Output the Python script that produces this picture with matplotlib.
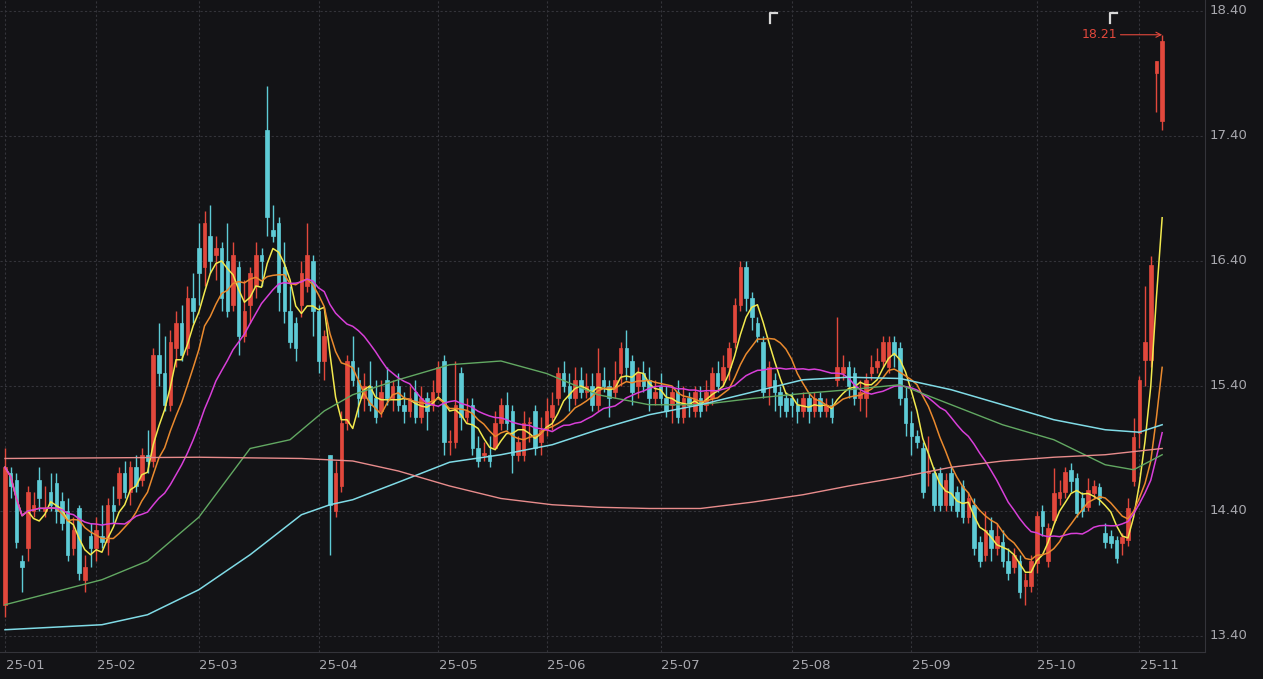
import numpy as np
import pandas as pd
import matplotlib
matplotlib.use("Agg")
import matplotlib.pyplot as plt

months = ["25-01","25-02","25-03","25-04","25-05","25-06","25-07","25-08","25-09","25-10","25-11"]
month_days = [16,18,21,21,19,20,23,21,22,18,5]

ohlc = [
# Jan
(13.65,14.90,13.55,14.75),(14.70,14.75,14.50,14.60),(14.65,14.70,14.10,14.15),(14.00,14.05,13.75,13.95),
(14.10,14.60,14.00,14.55),(14.40,14.55,14.35,14.45),(14.65,14.75,14.40,14.50),(14.40,14.60,14.35,14.42),
(14.55,14.70,14.40,14.45),(14.62,14.70,14.30,14.40),(14.48,14.55,14.25,14.30),(14.40,14.50,14.00,14.05),
(14.10,14.35,14.05,14.25),(14.42,14.45,13.85,13.90),(13.85,14.05,13.75,13.95),(14.20,14.30,13.95,14.10),
# Feb
(14.10,14.35,14.00,14.25),(14.20,14.45,14.10,14.15),(14.15,14.50,14.05,14.45),(14.45,14.60,14.30,14.40),
(14.50,14.75,14.45,14.70),(14.70,14.80,14.50,14.55),(14.55,14.80,14.45,14.75),(14.75,14.85,14.55,14.60),
(14.65,14.90,14.60,14.85),(14.85,15.05,14.70,14.80),(14.80,15.70,14.75,15.65),(15.65,15.90,15.40,15.50),
(15.50,15.80,15.20,15.25),(15.25,15.85,15.20,15.75),(15.70,16.00,15.55,15.90),(15.90,16.05,15.60,15.65),
(15.70,16.20,15.65,16.10),(16.10,16.30,15.90,16.00),
# Mar
(16.50,16.70,16.05,16.30),(16.35,16.80,16.20,16.70),(16.60,16.85,16.30,16.40),(16.45,16.60,16.25,16.50),
(16.50,16.55,16.00,16.10),(16.40,16.70,15.95,16.00),(16.05,16.55,16.00,16.45),(16.35,16.40,15.65,15.80),
(15.80,16.25,15.75,16.00),(16.05,16.35,15.90,16.30),(16.20,16.55,16.10,16.45),(16.45,16.50,16.20,16.40),
(17.45,17.80,16.60,16.75),(16.65,16.85,16.55,16.60),(16.70,16.75,16.00,16.15),(16.35,16.55,15.90,16.00),
(16.00,16.20,15.70,15.75),(15.90,15.95,15.60,15.70),(16.05,16.40,15.95,16.30),(16.20,16.70,16.15,16.45),
(16.40,16.45,15.80,16.00),
# Apr
(16.00,16.05,15.50,15.60),(15.60,15.85,15.45,15.80),(14.85,14.85,14.05,14.45),(14.40,14.80,14.35,14.70),
(14.60,15.20,14.55,15.10),(15.10,15.65,15.05,15.60),(15.60,15.80,15.40,15.45),(15.45,15.55,15.15,15.30),
(15.30,15.50,15.20,15.40),(15.40,15.60,15.20,15.25),(15.30,15.45,15.10,15.15),(15.20,15.45,15.15,15.35),
(15.45,15.55,15.25,15.30),(15.30,15.45,15.20,15.40),(15.40,15.50,15.20,15.25),(15.25,15.35,15.10,15.20),
(15.20,15.40,15.15,15.30),(15.35,15.45,15.10,15.15),(15.15,15.40,15.10,15.30),(15.30,15.35,15.05,15.20),
(15.25,15.45,15.20,15.35),
# May
(15.35,15.60,15.30,15.55),(15.60,15.65,14.85,14.95),(14.95,15.05,14.85,14.95),(14.95,15.60,14.90,15.25),
(15.50,15.55,15.05,15.15),(15.15,15.30,15.10,15.20),(15.25,15.30,14.85,14.90),(14.90,15.00,14.75,14.80),
(14.85,14.95,14.80,14.85),(14.85,15.00,14.75,14.80),(14.90,15.20,14.90,15.10),(15.10,15.30,15.05,15.25),
(15.25,15.35,15.05,15.10),(15.20,15.25,14.70,14.85),(14.85,15.00,14.80,14.95),(14.85,15.20,14.80,15.10),
(15.10,15.15,14.95,15.10),(15.20,15.25,14.85,14.90),(14.95,15.15,14.85,15.05),
# Jun
(15.05,15.30,15.00,15.20),(15.15,15.35,15.05,15.25),(15.30,15.55,15.25,15.50),(15.50,15.60,15.35,15.40),
(15.40,15.50,15.20,15.30),(15.30,15.55,15.25,15.45),(15.45,15.55,15.30,15.35),(15.35,15.50,15.30,15.40),
(15.40,15.50,15.20,15.25),(15.25,15.70,15.20,15.50),(15.45,15.55,15.35,15.40),(15.40,15.45,15.15,15.30),
(15.35,15.60,15.30,15.45),(15.50,15.75,15.40,15.70),(15.70,15.85,15.45,15.55),(15.60,15.65,15.25,15.35),
(15.40,15.55,15.30,15.50),(15.50,15.60,15.35,15.40),(15.45,15.55,15.20,15.30),(15.30,15.45,15.25,15.35),
# Jul
(15.40,15.50,15.25,15.30),(15.30,15.40,15.15,15.20),(15.25,15.40,15.10,15.35),(15.35,15.45,15.10,15.15),
(15.15,15.40,15.10,15.30),(15.30,15.35,15.15,15.25),(15.20,15.40,15.15,15.35),(15.30,15.40,15.15,15.20),
(15.25,15.45,15.20,15.35),(15.30,15.55,15.25,15.50),(15.50,15.60,15.35,15.40),(15.45,15.65,15.40,15.55),
(15.55,15.75,15.45,15.70),(15.75,16.10,15.70,16.05),(16.05,16.40,16.00,16.35),(16.35,16.40,16.00,16.10),
(16.10,16.15,15.85,15.95),(15.90,15.95,15.75,15.80),(15.75,15.80,15.30,15.35),(15.40,15.60,15.25,15.55),
(15.45,15.50,15.20,15.35),(15.35,15.40,15.15,15.25),(15.30,15.35,15.15,15.20),
# Aug
(15.30,15.35,15.15,15.25),(15.25,15.30,15.10,15.20),(15.20,15.35,15.15,15.30),(15.30,15.35,15.10,15.20),
(15.20,15.35,15.15,15.30),(15.30,15.35,15.15,15.20),(15.20,15.30,15.15,15.25),(15.25,15.30,15.10,15.15),
(15.45,15.95,15.40,15.55),(15.50,15.65,15.45,15.55),(15.55,15.60,15.30,15.40),(15.50,15.55,15.25,15.30),
(15.30,15.45,15.20,15.35),(15.30,15.50,15.15,15.45),(15.50,15.65,15.45,15.55),(15.55,15.70,15.50,15.60),
(15.60,15.80,15.55,15.75),(15.55,15.80,15.50,15.75),(15.75,15.80,15.55,15.65),(15.70,15.75,15.25,15.30),
(15.30,15.40,15.00,15.10),
# Sep
(15.10,15.20,14.85,15.00),(15.00,15.05,14.90,14.95),(14.90,14.95,14.50,14.55),(14.70,15.00,14.60,14.70),
(14.70,14.75,14.40,14.45),(14.70,14.75,14.40,14.45),(14.45,14.70,14.40,14.65),(14.70,14.75,14.40,14.45),
(14.55,14.60,14.35,14.40),(14.60,14.65,14.30,14.35),(14.35,14.55,14.30,14.50),(14.45,14.50,14.05,14.10),
(14.15,14.20,13.95,14.00),(14.05,14.40,14.00,14.25),(14.25,14.35,14.00,14.10),(14.10,14.30,14.05,14.20),
(14.15,14.25,13.95,14.00),(14.00,14.10,13.85,13.90),(13.95,14.10,13.90,14.05),(14.00,14.05,13.70,13.75),
(13.80,13.90,13.65,13.85),(13.80,14.05,13.75,14.00),
# Oct
(13.98,14.40,13.90,14.36),(14.40,14.45,14.20,14.28),(14.00,14.30,13.95,14.26),(14.33,14.74,14.30,14.54),
(14.50,14.65,14.45,14.55),(14.55,14.75,14.50,14.71),(14.73,14.78,14.55,14.64),(14.66,14.70,14.35,14.38),
(14.50,14.55,14.35,14.40),(14.43,14.66,14.40,14.57),(14.54,14.65,14.50,14.60),(14.59,14.62,14.45,14.50),
(14.22,14.30,14.10,14.15),(14.20,14.25,14.10,14.14),(14.17,14.20,13.98,14.02),(14.14,14.22,14.05,14.19),
(14.17,14.50,14.12,14.42),(14.64,15.14,14.60,14.99),
# Nov
(15.02,15.48,14.90,15.45),(15.61,16.20,15.40,15.75),(15.61,16.44,15.55,16.37),(17.90,18.00,17.59,18.00),
(17.52,18.21,17.45,18.16),
]

# long moving averages (day index, value)
ma60_days = [0,17,25,34,43,50,56,61,69,78,87,95,104,113,122,131,140,148,157,166,175,184,193,198,203]
ma60_vals = [13.65,13.85,14.00,14.35,14.90,14.97,15.20,15.33,15.45,15.57,15.60,15.50,15.33,15.25,15.25,15.30,15.34,15.37,15.41,15.25,15.09,14.97,14.77,14.73,14.85]
ma120_days = [0,17,25,34,43,52,57,61,69,78,87,96,104,113,122,131,140,148,157,166,175,184,193,199,203]
ma120_vals = [13.45,13.49,13.57,13.77,14.05,14.37,14.45,14.49,14.63,14.79,14.85,14.93,15.05,15.17,15.25,15.35,15.45,15.47,15.46,15.37,15.25,15.13,15.05,15.03,15.09]
ma250_days = [0,34,52,61,69,78,87,96,104,113,122,131,140,148,157,166,175,184,193,203]
ma250_vals = [14.82,14.83,14.82,14.80,14.72,14.60,14.50,14.45,14.43,14.42,14.42,14.47,14.53,14.60,14.67,14.75,14.80,14.83,14.85,14.90]

yticks = [13.40,14.40,15.40,16.40,17.40,18.40]
high_label = "18.21"

BG = "#131316"
UP = "#e2483c"
DN = "#5ecbd6"

df = pd.DataFrame(ohlc, columns=["o","h","l","c"])
n = len(df)
x = np.arange(n)

fig = plt.figure(figsize=(12.63,6.79), dpi=100, facecolor=BG)
ax = fig.add_axes([0, 0.0398, 0.954, 0.9602])
ax.set_facecolor(BG)

starts = np.cumsum([0]+month_days[:-1])
for s in starts:
    ax.axvline(s, color="#34343a", lw=0.8, ls=(0,(2,2)), zorder=0)
for t in yticks:
    ax.axhline(t, color="#34343a", lw=0.8, ls=(0,(2,2)), zorder=0)

bw = 0.62
for i, r in df.iterrows():
    up = r.c >= r.o
    col = UP if up else DN
    ax.vlines(i, r.l, r.h, color=col, lw=1.0, zorder=2)
    lo, hi = min(r.o, r.c), max(r.o, r.c)
    ax.bar(i, max(hi-lo, 0.01), bottom=lo, width=bw, color=col, edgecolor=col, lw=0.5, zorder=3)

cl = df.c
ax.plot(x, cl.rolling(5, min_periods=1).mean(), color="#f2e94e", lw=1.1, zorder=4)
ax.plot(x, cl.rolling(10, min_periods=1).mean(), color="#ea8a2e", lw=1.1, zorder=4)
ax.plot(x, cl.rolling(20, min_periods=1).mean(), color="#d83fd8", lw=1.1, zorder=4)
ax.plot(ma60_days, ma60_vals, color="#62a862", lw=1.0, zorder=4)
ax.plot(ma120_days, ma120_vals, color="#80dbe6", lw=1.1, zorder=4)
ax.plot(ma250_days, ma250_vals, color="#e88c8c", lw=1.0, zorder=4)

ax.set_xlim(-0.88, 210.5)
ax.set_ylim(13.272, 18.488)
ax.set_xticks([]); ax.set_yticks([])
for sp in ax.spines.values():
    sp.set_visible(False)
ax.spines["right"].set_visible(True); ax.spines["right"].set_color("#34343a")
ax.spines["bottom"].set_visible(True); ax.spines["bottom"].set_color("#34343a")

for t in yticks:
    ax.text(1.004, (t-13.272)/(18.488-13.272), f"{t:.2f}", transform=ax.transAxes,
            color="#a8a8ae", fontsize=9.5, va="center", ha="left")
for s, m in zip(starts, months):
    ax.text(s + 0.1, 13.215, m, color="#a8a8ae", fontsize=9.5, va="top", ha="left")

# high marker
ih = int(df.h.idxmax())
ax.annotate(high_label, xy=(ih, df.h[ih]), xytext=(ih-7.8, df.h[ih]),
            color=UP, fontsize=9, va="center", ha="right",
            arrowprops=dict(arrowstyle="->", color=UP, lw=0.8, shrinkA=0, shrinkB=0))

# corner marks at top
for xm in [134.2, 193.8]:
    ax.plot([xm, xm, xm+1.3], [18.30, 18.38, 18.38], color="#d8d8d8", lw=1.6, zorder=5)

fig.savefig("out.png", dpi=100, facecolor=BG)
